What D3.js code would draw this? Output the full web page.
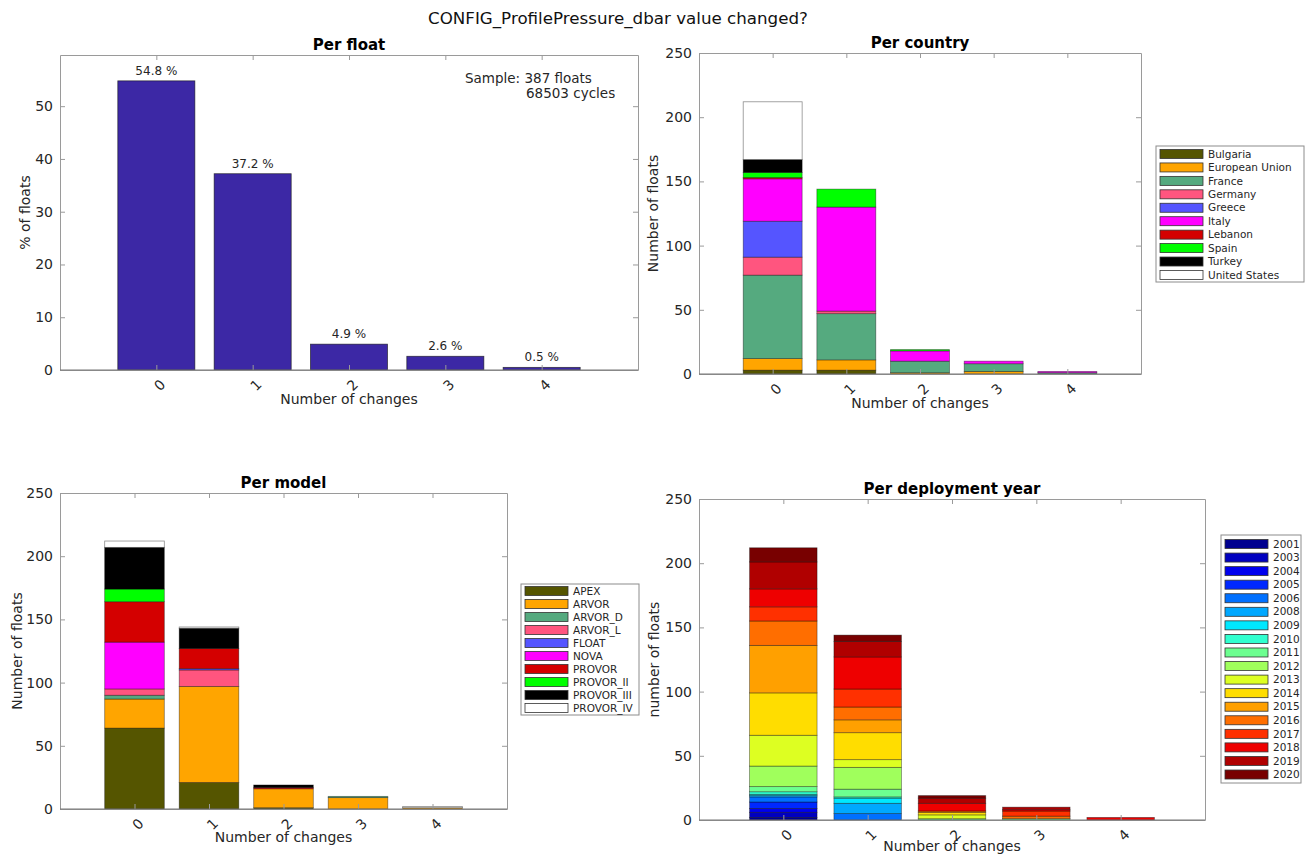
<!DOCTYPE html>
<html><head><meta charset="utf-8">
<script src="https://cdn.jsdelivr.net/npm/d3@7"></script>
<style>
body{margin:0;background:#fff}
svg{display:block}
text{font-family:"DejaVu Sans",sans-serif}
</style>
</head><body>
<svg id="chart" width="1312" height="854"></svg>
<script>
// ---------------- data ----------------
const changes = [0, 1, 2, 3, 4];
const changeLabels = ["0", "1", "2", "3", "4"];
const floatPct = [54.8, 37.2, 4.9, 2.6, 0.5];
const floatPctLabels = ["54.8 %", "37.2 %", "4.9 %", "2.6 %", "0.5 %"];
const pctTicks = [0, 10, 20, 30, 40, 50];
const countTicks = [0, 50, 100, 150, 200, 250];
const sampleLines = ["Sample: 387 floats", "68503 cycles"];

const countries = ["Bulgaria", "European Union", "France", "Germany", "Greece", "Italy", "Lebanon", "Spain", "Turkey", "United States"];
const countryColors = ["#555500", "#FFA500", "#55AA7F", "#FF557F", "#5555FF", "#FF00FF", "#D40000", "#00FF00", "#000000", "#FFFFFF"];
const countryValues = [
  [3, 3, 0, 0, 0],
  [9, 8, 1, 2, 0],
  [65, 36, 9, 6, 1],
  [14, 2, 0, 0, 0],
  [28, 0, 0, 0, 0],
  [33, 81, 8, 2, 1],
  [1, 0, 0, 0, 0],
  [4, 14, 1, 0, 0],
  [10, 0, 0, 0, 0],
  [45, 0, 0, 0, 0]
];

const models = ["APEX", "ARVOR", "ARVOR_D", "ARVOR_L", "FLOAT", "NOVA", "PROVOR", "PROVOR_II", "PROVOR_III", "PROVOR_IV"];
const modelColors = ["#555500", "#FFA500", "#55AA7F", "#FF557F", "#5555FF", "#FF00FF", "#D40000", "#00FF00", "#000000", "#FFFFFF"];
const modelValues = [
  [64, 21, 1, 0, 0],
  [23, 76, 15, 9, 1],
  [3, 0, 0, 1, 0],
  [5, 13, 0, 0, 0],
  [0, 1, 0, 0, 0],
  [37, 0, 0, 0, 0],
  [32, 16, 1, 0, 0],
  [10, 0, 0, 0, 0],
  [33, 16, 2, 0, 0],
  [5, 1, 0, 0, 1]
];

const years = ["2001", "2003", "2004", "2005", "2006", "2008", "2009", "2010", "2011", "2012", "2013", "2014", "2015", "2016", "2017", "2018", "2019", "2020"];
const yearColors = ["#00008F", "#0000BF", "#0000EF", "#0028FF", "#0070FF", "#00A8FF", "#00E8FF", "#30FFCF", "#6CFF90", "#A0FF5C", "#DDFF22", "#FFDD00", "#FFA000", "#FF6E00", "#FF3000", "#EE0000", "#B00000", "#780000"];
const yearValues = [
  [2, 0, 0, 0, 0],
  [4, 0, 0, 0, 0],
  [3, 0, 0, 0, 0],
  [5, 0, 0, 0, 0],
  [4, 5, 0, 0, 0],
  [1, 8, 0, 0, 0],
  [1, 4, 0, 0, 0],
  [2, 1, 0, 0, 0],
  [4, 6, 1, 1, 0],
  [16, 17, 0, 0, 0],
  [24, 6, 3, 0, 0],
  [33, 21, 2, 0, 0],
  [37, 10, 0, 0, 0],
  [19, 10, 1, 2, 0],
  [11, 14, 0, 4, 0],
  [14, 25, 6, 1, 2],
  [21, 12, 4, 2, 0],
  [11, 5, 2, 0, 0]
];

// ---------------- drawing ----------------
const svg = d3.select("#chart");
const TXT = "#262626", AX = "#9a9a9a";

svg.append("text").attr("x", 618).attr("y", 24).attr("text-anchor", "middle")
  .attr("font-size", 16.7).attr("fill", "#111")
  .text("CONFIG_ProfilePressure_dbar value changed?");

function drawPanel(o) {
  const g = svg.append("g");
  const x = d3.scaleLinear().domain([-1, 5]).range([o.x0, o.x1]);
  const y = d3.scaleLinear().domain([0, o.ymax]).range([o.y1, o.y0]);
  const bw = x(0.4) - x(0);

  g.append("rect").attr("x", o.x0).attr("y", o.y0).attr("width", o.x1 - o.x0).attr("height", o.y1 - o.y0).attr("fill", "#fff");

  if (o.simple) {
    g.selectAll("rect.bar").data(o.values).join("rect").attr("class", "bar")
      .attr("x", (d, i) => x(changes[i]) - bw).attr("width", 2 * bw)
      .attr("y", d => y(d)).attr("height", d => y(0) - y(d))
      .attr("fill", o.color).attr("stroke", "#111").attr("stroke-width", 0.8).attr("stroke-opacity", 0.7);
    g.selectAll("text.vl").data(o.values).join("text").attr("class", "vl")
      .attr("x", (d, i) => x(changes[i])).attr("y", d => y(d) - 6)
      .attr("text-anchor", "middle").attr("font-size", 12).attr("fill", TXT)
      .text((d, i) => o.valueLabels[i]);
  } else {
    const table = changes.map((c, j) => {
      const row = { change: c };
      o.names.forEach((n, k) => { row[n] = o.values[k][j]; });
      return row;
    });
    const stacked = d3.stack().keys(o.names)(table);
    stacked.forEach((layer, k) => {
      g.append("g").selectAll("rect").data(layer.filter(d => d[1] - d[0] > 0)).join("rect")
        .attr("x", d => x(d.data.change) - bw).attr("width", 2 * bw)
        .attr("y", d => y(d[1])).attr("height", d => y(d[0]) - y(d[1]))
        .attr("fill", o.colors[k]).attr("stroke", "#000").attr("stroke-width", 0.8).attr("stroke-opacity", 0.45);
    });
  }

  const style = sel => {
    sel.select(".domain").attr("stroke", AX);
    sel.selectAll(".tick line").attr("stroke", AX);
    sel.selectAll(".tick text").attr("fill", TXT).attr("font-size", 14).attr("font-family", "DejaVu Sans");
  };
  const bottom = g.append("g").attr("transform", `translate(0,${o.y1})`)
    .call(d3.axisBottom(x).tickValues(changes).tickFormat((d, i) => changeLabels[i]).tickSizeInner(-5).tickSizeOuter(0));
  style(bottom);
  bottom.selectAll(".tick text").attr("x", 0).attr("y", 0).attr("dy", "0.35em")
    .attr("text-anchor", "end").attr("transform", "translate(6,12) rotate(-45)");
  const top = g.append("g").attr("transform", `translate(0,${o.y0})`)
    .call(d3.axisTop(x).tickValues(changes).tickFormat("").tickSizeInner(-5).tickSizeOuter(0));
  style(top);
  const left = g.append("g").attr("transform", `translate(${o.x0},0)`)
    .call(d3.axisLeft(y).tickValues(o.yticks).tickSizeInner(-5).tickSizeOuter(0).tickPadding(7));
  style(left);
  const right = g.append("g").attr("transform", `translate(${o.x1},0)`)
    .call(d3.axisRight(y).tickValues(o.yticks).tickFormat("").tickSizeInner(-5).tickSizeOuter(0));
  style(right);
  g.append("line").attr("x1", o.x0).attr("x2", o.x1).attr("y1", y(0)).attr("y2", y(0)).attr("stroke", "#777");

  g.append("text").attr("x", (o.x0 + o.x1) / 2).attr("y", o.y0 - 5).attr("text-anchor", "middle")
    .attr("font-size", 15).attr("font-weight", "bold").attr("fill", "#000").text(o.title);
  g.append("text").attr("x", (o.x0 + o.x1) / 2).attr("y", o.xlabY).attr("text-anchor", "middle")
    .attr("font-size", 14).attr("fill", TXT).text("Number of changes");
  g.append("text").attr("transform", `translate(${o.ylabX},${(o.y0 + o.y1) / 2}) rotate(-90)`)
    .attr("text-anchor", "middle").attr("font-size", 14).attr("fill", TXT).text(o.ylabel);
  return { g, x, y };
}

function drawLegend(o) {
  const g = svg.append("g");
  g.append("rect").attr("x", o.x).attr("y", o.y).attr("width", o.w).attr("height", o.h)
    .attr("fill", "#fff").attr("stroke", "#8c8c8c").attr("stroke-width", 1);
  o.names.forEach((n, i) => {
    const cy = o.y + o.first + i * o.step;
    g.append("rect").attr("x", o.x + 4).attr("y", cy - 4.5).attr("width", 43).attr("height", 9)
      .attr("fill", o.colors[i]).attr("stroke", "#333").attr("stroke-width", 0.8);
    g.append("text").attr("x", o.x + 52).attr("y", cy).attr("dy", "0.35em")
      .attr("font-size", 10.5).attr("fill", TXT).text(n);
  });
}

// Per float
const pf = drawPanel({ x0: 60, x1: 638, y0: 55, y1: 370, ymax: 59.7, yticks: pctTicks,
  simple: true, values: floatPct, valueLabels: floatPctLabels, color: "#3C28A5",
  title: "Per float", ylabel: "% of floats", ylabX: 30, xlabY: 404 });
pf.g.append("text").attr("x", 465).attr("y", 83).attr("font-size", 13.5).attr("fill", TXT).text(sampleLines[0]);
pf.g.append("text").attr("x", 526).attr("y", 98).attr("font-size", 13.5).attr("fill", TXT).text(sampleLines[1]);

// Per country
drawPanel({ x0: 699, x1: 1141, y0: 53, y1: 374, ymax: 250, yticks: countTicks,
  names: countries, values: countryValues, colors: countryColors,
  title: "Per country", ylabel: "Number of floats", ylabX: 658, xlabY: 408 });
drawLegend({ x: 1156, y: 146, w: 148, h: 136, names: countries, colors: countryColors, first: 8, step: 13.44 });

// Per model
drawPanel({ x0: 60, x1: 507, y0: 493, y1: 809, ymax: 250, yticks: countTicks,
  names: models, values: modelValues, colors: modelColors,
  title: "Per model", ylabel: "Number of floats", ylabX: 22, xlabY: 842 });
drawLegend({ x: 521, y: 584, w: 118, h: 131, names: models, colors: modelColors, first: 7, step: 13 });

// Per deployment year
drawPanel({ x0: 699, x1: 1205, y0: 499, y1: 820, ymax: 250, yticks: countTicks,
  names: years, values: yearValues, colors: yearColors,
  title: "Per deployment year", ylabel: "number of floats", ylabX: 659, xlabY: 851 });
drawLegend({ x: 1221, y: 535, w: 80, h: 248, names: years, colors: yearColors, first: 9, step: 13.56 });
</script>
</body></html>
